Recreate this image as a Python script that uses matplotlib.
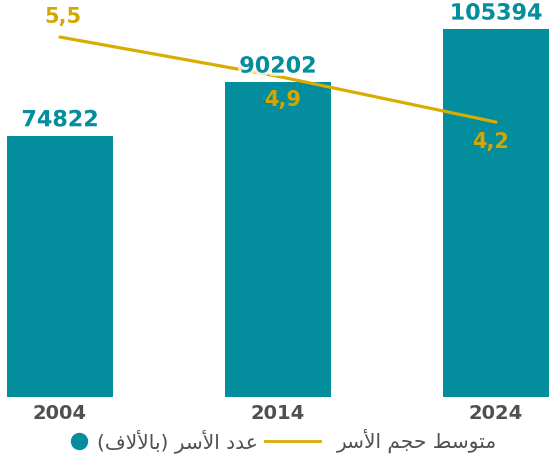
import matplotlib
matplotlib.use("Agg")
import matplotlib.pyplot as plt
import matplotlib.patheffects as pe

# ---------------- data ----------------
years = ["2004", "2014", "2024"]
households = [74822, 90202, 105394]
avg_size = [5.5, 4.9, 4.2]
avg_size_labels = ["5,5", "4,9", "4,2"]
legend_line_label = "متوسط حجم الأسر"
legend_bar_label = "عدد الأسر (بالألاف)"

TEAL = "#038D9D"
GOLD = "#D8AC00"
GOLD_TXT = "#D4A600"
GREY = "#505050"

# ---------------- minimal Arabic shaping ----------------
FORMS = {  # iso, fin, ini, med
    "\u0627": ("\uFE8D", "\uFE8E", None, None),
    "\u0623": ("\uFE83", "\uFE84", None, None),
    "\u0628": ("\uFE8F", "\uFE90", "\uFE91", "\uFE92"),
    "\u062A": ("\uFE95", "\uFE96", "\uFE97", "\uFE98"),
    "\u062C": ("\uFE9D", "\uFE9E", "\uFE9F", "\uFEA0"),
    "\u062D": ("\uFEA1", "\uFEA2", "\uFEA3", "\uFEA4"),
    "\u062F": ("\uFEA9", "\uFEAA", None, None),
    "\u0631": ("\uFEAD", "\uFEAE", None, None),
    "\u0633": ("\uFEB1", "\uFEB2", "\uFEB3", "\uFEB4"),
    "\u0637": ("\uFEC1", "\uFEC2", "\uFEC3", "\uFEC4"),
    "\u0639": ("\uFEC9", "\uFECA", "\uFECB", "\uFECC"),
    "\u0641": ("\uFED1", "\uFED2", "\uFED3", "\uFED4"),
    "\u0644": ("\uFEDD", "\uFEDE", "\uFEDF", "\uFEE0"),
    "\u0645": ("\uFEE1", "\uFEE2", "\uFEE3", "\uFEE4"),
    "\u0648": ("\uFEED", "\uFEEE", None, None),
}
LAMALEF = {"\u0627": ("\uFEFB", "\uFEFC"), "\u0623": ("\uFEF7", "\uFEF8")}


def dual(c):
    return c in FORMS and FORMS[c][2] is not None


def shape(text):
    units = []
    i = 0
    while i < len(text):
        c = text[i]
        if c == "\u0644" and i + 1 < len(text) and text[i + 1] in LAMALEF:
            units.append(("LA", text[i + 1]))
            i += 2
        else:
            units.append(("C", c))
            i += 1
    out = []
    for k, (kind, c) in enumerate(units):
        prev = units[k - 1] if k > 0 else None
        nxt = units[k + 1] if k + 1 < len(units) else None
        joins_prev = prev is not None and prev[0] == "C" and dual(prev[1]) and (kind == "LA" or c in FORMS)
        if kind == "LA":
            out.append(LAMALEF[c][1] if joins_prev else LAMALEF[c][0])
            continue
        if c not in FORMS:
            out.append({"(": ")", ")": "("}.get(c, c))
            continue
        joins_next = dual(c) and nxt is not None and (nxt[0] == "LA" or nxt[1] in FORMS)
        iso, fin, ini, med = FORMS[c]
        if joins_prev and joins_next:
            out.append(med)
        elif joins_prev:
            out.append(fin)
        elif joins_next:
            out.append(ini)
        else:
            out.append(iso)
    return "".join(reversed(out))


# ---------------- figure ----------------
W, H, DPI = 553, 459, 100
fig = plt.figure(figsize=(W / DPI, H / DPI), dpi=DPI)
ax = fig.add_axes([7 / W, 62 / H, 542 / W, 384 / H])
x = list(range(len(years)))
bw = 0.486
ax.bar(x, households, width=bw, color=TEAL, zorder=2)
ax.set_xlim(-0.243, 2.243)
ax.set_ylim(0, 110000)
for s in ax.spines.values():
    s.set_visible(False)
ax.set_yticks([])
ax.set_xticks(x)
ax.set_xticklabels(years, fontsize=14, fontweight="bold", color=GREY)
ax.tick_params(axis="x", length=0, pad=5)

ax2 = ax.twinx()
ax2.set_ylim(0, 5.867)
ax2.set_axis_off()
ax2.plot(x, avg_size, color=GOLD, lw=2.3, zorder=1, solid_capstyle="round")

for xi, v in zip(x, households):
    ax2.annotate(str(v), (xi, v / 110000 * 5.867), xytext=(0, 4), textcoords="offset points",
                 ha="center", va="bottom", fontsize=16, fontweight="bold", color=TEAL,
                 path_effects=[pe.withStroke(linewidth=5, foreground=(1, 1, 1, 0.75))], zorder=5)

offsets = [(2, 7), (3, -10), (-4, -7)]
vas = ["bottom", "top", "top"]
for xi, v, lab, off, va in zip(x, avg_size, avg_size_labels, offsets, vas):
    ax2.annotate(lab, (xi, v), xytext=off, textcoords="offset points", ha="center", va=va,
                 fontsize=15, fontweight="bold", color=GOLD_TXT, zorder=6)

# ---------------- legend ----------------
ly = (H - 441) / H
fig.text(497 / W, ly, shape(legend_line_label), ha="right", va="center", fontsize=14.5,
         color=GREY, family="DejaVu Sans")
fig.add_artist(plt.Line2D([265 / W, 320 / W], [ly, ly], color=GOLD, lw=2, transform=fig.transFigure))
fig.text(258 / W, ly, shape(legend_bar_label), ha="right", va="center", fontsize=14.5,
         color=GREY, family="DejaVu Sans")
fig.add_artist(plt.Line2D([79 / W], [ly], marker="o", markersize=11.5, color=TEAL,
                          transform=fig.transFigure))

fig.savefig("out.png", dpi=DPI)
